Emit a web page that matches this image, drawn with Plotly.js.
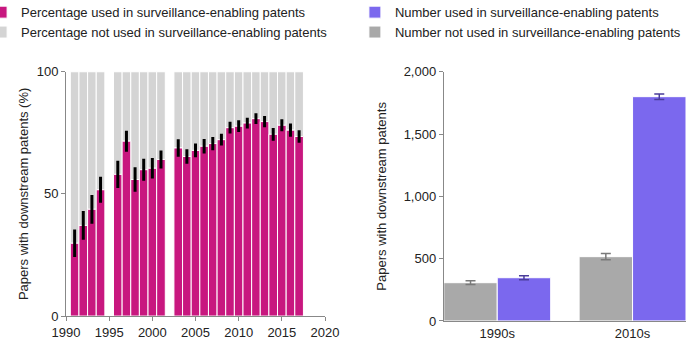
<!DOCTYPE html>
<html>
<head>
<meta charset="utf-8">
<script src="https://cdn.plot.ly/plotly-3.0.1.min.js"></script>
<style>html,body{margin:0;padding:0;background:#fff}#chart{width:700px;height:350px}</style>
</head>
<body>
<div id="chart"></div>
<script>
// Left panel: percentage of papers with downstream patents used in surveillance-enabling patents
var years = [1991,1992,1993,1994,1996,1997,1998,1999,2000,2001,2003,2004,2005,2006,2007,2008,2009,2010,2011,2012,2013,2014,2015,2016,2017];
var pctUsed = [29.8,37.1,43.7,51.7,58.0,71.6,55.9,59.9,60.5,64.1,68.8,65.3,67.8,69.5,70.6,72.2,77.1,77.7,79.0,80.8,79.6,74.4,78.1,76.1,73.5];
var pctErr = [5.6,5.9,5.9,5.3,5.6,4.3,5.0,4.5,4.2,3.7,3.6,3.0,2.8,3.0,2.7,2.4,2.4,2.4,2.2,2.2,2.3,2.6,2.5,2.7,2.6];
var pctNotUsed = pctUsed.map(function(v){return 100 - v;});

// Right panel: number of papers by decade
var decades = ['1990s','2010s'];
var numNotUsed = [307,516];
var numNotUsedErr = [15,25];
var numUsed = [347,1800];
var numUsedErr = [16,22];

var magenta = '#C8177F', lightGray = '#D4D4D4', purple = '#7B68EE', midGray = '#A9A9A9';
var ones = years.map(function(){return 1;});

var traces = [
  {type:'bar', x:years, y:pctNotUsed, base:pctUsed, width:ones, name:'Percentage not used in surveillance-enabling patents',
   marker:{color:lightGray, line:{color:'#ffffff', width:1}}, xaxis:'x', yaxis:'y', legend:'legend'},
  {type:'bar', x:years, y:pctUsed, width:ones, name:'Percentage used in surveillance-enabling patents',
   marker:{color:magenta, line:{color:'#ffffff', width:1}}, xaxis:'x', yaxis:'y', legend:'legend',
   error_y:{type:'data', array:pctErr, visible:true, color:'#000000', thickness:3, width:0}},
  {type:'bar', x:decades, y:numNotUsed, width:[0.395,0.395], offset:[-0.395,-0.395], name:'Number not used in surveillance-enabling patents',
   marker:{color:midGray, line:{color:'#ffffff', width:1}}, xaxis:'x2', yaxis:'y2', legend:'legend2',
   error_y:{type:'data', array:numNotUsedErr, visible:true, color:'#7a7a7a', thickness:1.5, width:5}},
  {type:'bar', x:decades, y:numUsed, width:[0.395,0.395], offset:[0,0], name:'Number used in surveillance-enabling patents',
   marker:{color:purple, line:{color:'#ffffff', width:1}}, xaxis:'x2', yaxis:'y2', legend:'legend2',
   error_y:{type:'data', array:numUsedErr, visible:true, color:'#4A3D9A', thickness:1.5, width:5}}
];

var axFont = {family:'Liberation Sans, Arial, sans-serif', size:13, color:'#222'};
var layout = {
  width:700, height:350,
  margin:{l:0, r:0, t:0, b:0, autoexpand:false},
  paper_bgcolor:'#fff', plot_bgcolor:'#fff',
  barmode:'overlay',
  font:axFont,
  xaxis:{domain:[0.0943,0.4643], range:[1990,2020], tickvals:[1990,1995,2000,2005,2010,2015,2020],
    showline:true, linecolor:'#888', linewidth:1, ticks:'outside', ticklen:4, tickcolor:'#888',
    showgrid:false, zeroline:false, tickfont:axFont, anchor:'y', automargin:false},
  yaxis:{domain:[0.097,0.795], range:[0,100], tickvals:[0,50,100],
    showline:true, linecolor:'#888', linewidth:1, ticks:'outside', ticklen:4, tickcolor:'#888',
    showgrid:false, zeroline:false, tickfont:axFont, anchor:'x', automargin:false,
    title:{text:'Papers with downstream patents (%)', font:axFont, standoff:5}},
  xaxis2:{domain:[0.634,0.98], range:[-0.395,1.395], type:'category',
    showline:true, linecolor:'#888', linewidth:1, ticks:'', showgrid:false, zeroline:false,
    tickfont:axFont, anchor:'y2', automargin:false},
  yaxis2:{domain:[0.083,0.795], range:[0,2000], tickvals:[0,500,1000,1500,2000], tickformat:',',
    showline:true, linecolor:'#888', linewidth:1, ticks:'outside', ticklen:4, tickcolor:'#888',
    showgrid:false, zeroline:false, tickfont:axFont, anchor:'x2', automargin:false,
    title:{text:'Papers with downstream patents', font:axFont, standoff:14}},
  legend:{x:-0.027, y:1.008, xanchor:'left', yanchor:'top', traceorder:'reversed',
    font:axFont, bgcolor:'rgba(0,0,0,0)'},
  legend2:{x:0.507, y:1.008, xanchor:'left', yanchor:'top', traceorder:'reversed',
    font:axFont, bgcolor:'rgba(0,0,0,0)'},
  showlegend:true
};

Plotly.newPlot('chart', traces, layout, {displayModeBar:false, staticPlot:true});
</script>
</body>
</html>
